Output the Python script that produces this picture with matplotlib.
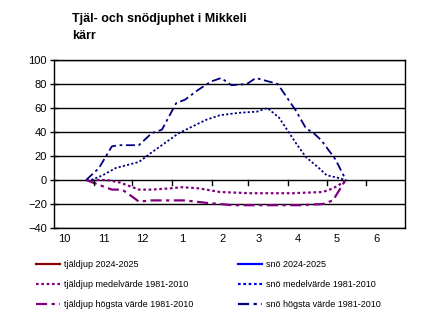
import matplotlib
matplotlib.use("Agg")
import matplotlib.pyplot as plt
from matplotlib.lines import Line2D

plt.rcParams['font.family'] = ['Liberation Sans', 'DejaVu Sans']

# days counted from 1 October
month_starts = [0, 31, 61, 92, 123, 151, 182, 212, 243, 273]
month_labels = ['10', '11', '12', '1', '2', '3', '4', '5', '6']

# snow depth, highest value 1981-2010 (cm)
snow_max_day = [25, 35, 45, 50, 66, 72, 76, 84, 95, 102, 112, 122, 130, 138, 150, 157, 174, 188, 196, 202, 208, 219, 227]
snow_max_val = [0, 10, 28, 29, 29, 35, 39, 42, 64, 67, 75, 82, 85, 79, 80, 85, 80, 58, 43, 39, 33, 17, 0]

# snow depth, mean 1981-2010
snow_mean_day = [29, 38, 48, 66, 76, 97, 118, 129, 144, 158, 166, 175, 188, 196, 205, 212, 220, 227]
snow_mean_val = [0, 4, 10, 15, 23, 39, 50, 54, 56, 57, 60, 52, 31, 19, 11, 4, 2, 0]

# frost depth, mean 1981-2010
frost_mean_day = [25, 41, 51, 66, 76, 90, 100, 113, 129, 152, 186, 209, 217, 225, 227]
frost_mean_val = [0, 0, -2, -8, -8, -7, -6, -7, -10, -11, -11, -10, -7, -2, 0]

# frost depth, highest value 1981-2010
frost_max_day = [25, 35, 45, 53, 61, 66, 76, 102, 118, 129, 139, 191, 209, 217, 225, 227]
frost_max_val = [0, -4, -8, -8, -14, -18, -17, -17, -19, -20, -21, -21, -20, -17, -3, 0]

# current season has no observations yet
frost_now_day, frost_now_val = [], []
snow_now_day, snow_now_val = [], []

purple = '#800080'
navy = '#000080'
blue = '#0000ff'
darkred = '#8b0000'
dashdot = (0, (5, 2, 1.5, 2))
dots = (0, (1.2, 1.2))

fig = plt.figure(figsize=(4.3, 3.28), dpi=100)
ax = fig.add_axes([54 / 430, 1 - 228 / 328, 351 / 430, 168 / 328])

ax.plot(frost_now_day, frost_now_val, color=darkred, lw=1.6)
ax.plot(snow_now_day, snow_now_val, color=blue, lw=1.6)
ax.plot(frost_mean_day, frost_mean_val, color=purple, lw=1.6, ls=dots)
ax.plot(snow_mean_day, snow_mean_val, color=navy, lw=1.3, ls=dots)
ax.plot(frost_max_day, frost_max_val, color=purple, lw=1.6, ls=dashdot)
ax.plot(snow_max_day, snow_max_val, color=navy, lw=1.3, ls=dashdot)

ax.set_xlim(0, 273)
ax.set_ylim(-40, 100)
ax.set_yticks(range(-40, 101, 20))
ax.yaxis.grid(True, color='black', lw=1)
ax.set_axisbelow(True)
for s in ax.spines.values():
    s.set_linewidth(1)
ax.tick_params(axis='y', direction='inout', length=6, width=1, labelsize=8, pad=2)

# month boundaries as ticks on the zero line, month numbers just after them
ax.set_xticks([])
for d in month_starts[1:-1]:
    ax.plot([d, d], [0, -4], color='black', lw=1, clip_on=False)
for start, lab in zip(month_starts, month_labels):
    ax.text(start + 8, -45, lab, ha='center', va='top', fontsize=8)

fig.text(72 / 430, 1 - 27.5 / 328, 'Tjäl- och snödjuphet i Mikkeli\nkärr', fontsize=9,
         fontweight='bold', ha='left', va='center', linespacing=1.5)

handles = [
    Line2D([], [], color=darkred, lw=1.6),
    Line2D([], [], color=purple, lw=1.6, ls=dots),
    Line2D([], [], color=purple, lw=1.6, ls=dashdot),
    Line2D([], [], color=blue, lw=1.6),
    Line2D([], [], color=blue, lw=1.6, ls=dots),
    Line2D([], [], color=navy, lw=1.6, ls=dashdot),
]
labels = ['tjäldjup 2024-2025', 'tjäldjup medelvärde 1981-2010', 'tjäldjup högsta värde 1981-2010',
          'snö 2024-2025', 'snö medelvärde 1981-2010', 'snö högsta värde 1981-2010']
fig.legend(handles, labels, ncol=2, loc='upper left', bbox_to_anchor=(28 / 430, 1 - 252 / 328),
           frameon=False, fontsize=6.5, handlelength=2.6, handletextpad=0.45,
           columnspacing=5.0, labelspacing=1.2)

fig.savefig('out.png', dpi=100)
